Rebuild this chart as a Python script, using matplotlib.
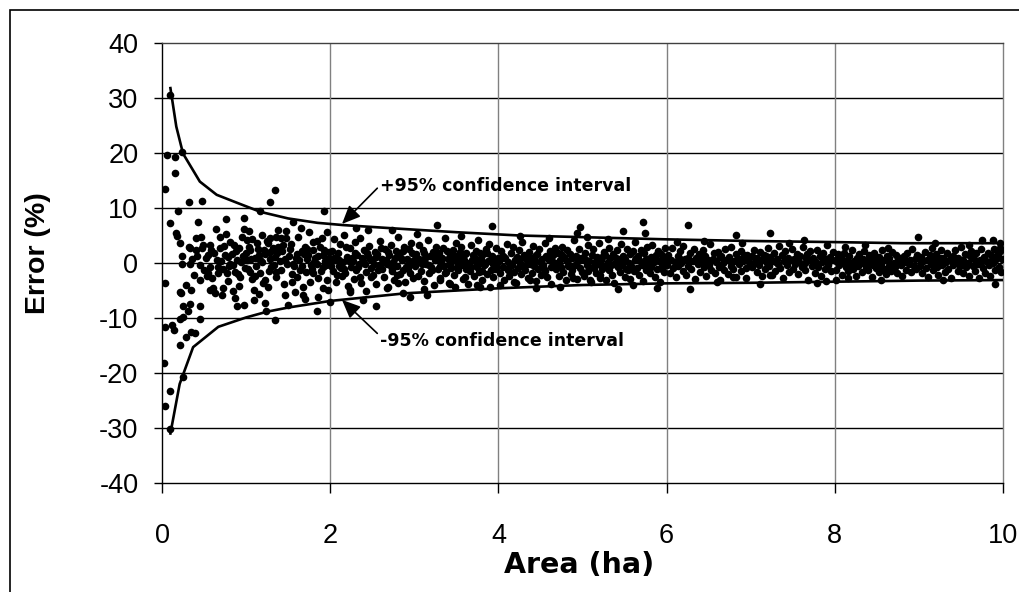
import matplotlib.pyplot as plt
import numpy as np
from matplotlib.patches import Rectangle

plt.rcParams['font.family'] = ['Liberation Sans', 'DejaVu Sans']
plt.rcParams['axes.unicode_minus'] = False

# 95% confidence interval curves
upper_area = [0.1, 0.17, 0.25, 0.45, 0.65, 0.9, 1.17, 1.5, 1.85, 2.15, 2.75, 3.5, 4.25, 5.0, 6.0, 7.0, 8.0, 8.8, 10.0]
upper_err = [31.8, 24.8, 19.9, 14.8, 12.4, 10.9, 9.3, 8.1, 7.3, 6.9, 6.3, 5.6, 5.0, 4.7, 4.3, 4.0, 3.8, 3.6, 3.6]
lower_area = [0.1, 0.21, 0.37, 0.67, 1.0, 1.25, 1.5, 2.0, 2.9, 4.0, 5.0, 6.0, 7.0, 8.0, 9.0, 10.0]
lower_err = [-31.0, -22.0, -15.3, -11.6, -9.9, -8.85, -8.1, -6.9, -5.5, -4.6, -4.0, -3.7, -3.6, -3.4, -3.2, -3.1]

# (area ha, error %) samples
pts_0_2 = [
    (0.09, 30.5), (0.06, 19.6), (0.15, 19.2), (0.24, 20.2), (0.15, 16.3), (0.04, 13.5), (0.32, 11.1), (0.48, 11.3),
    (1.34, 13.3), (1.28, 11.1), (0.19, 9.5), (1.17, 9.5), (1.93, 9.5), (0.09, 7.2), (0.43, 7.4), (0.76, 8.0),
    (0.98, 8.2), (1.56, 7.4), (1.65, 6.4), (1.96, 5.7), (0.17, 5.4), (0.18, 4.9), (0.21, 3.6), (0.64, 6.1),
    (0.76, 5.3), (0.41, 4.5), (0.46, 4.8), (0.57, 3.3), (0.69, 4.7), (0.81, 3.9), (0.98, 6.2), (1.04, 5.8),
    (1.01, 4.2), (0.95, 4.8), (1.13, 3.6), (1.25, 4.0), (1.38, 6.0), (1.47, 5.8), (1.36, 4.8), (1.42, 4.5),
    (1.48, 4.5), (1.28, 4.5), (1.84, 4.0), (1.90, 4.5), (0.32, 3.0), (0.47, 2.7),
    (0.24, 1.3), (0.24, -0.1), (0.33, -0.1), (0.33, 2.7), (0.41, 2.4), (0.49, 3.3), (0.55, 1.5), (0.69, 2.7),
    (0.79, 1.1), (0.81, -0.1), (0.89, 0.5), (0.91, 2.7), (1.01, 0.5), (1.05, 2.4), (1.15, 1.5), (1.26, 3.6),
    (1.28, 2.0), (1.34, 1.1), (1.38, 3.0), (1.46, 0.8), (1.56, -0.1), (1.60, 1.7), (1.70, 3.0), (1.72, 0.8),
    (1.80, 2.4), (1.84, -0.1), (1.92, 1.5), (2.0, -0.1),
    (0.04, -3.7), (0.21, -5.2), (0.23, -5.4), (0.35, -4.9), (0.29, -4.0), (0.45, -3.1), (0.57, -4.9), (0.61, -4.6),
    (0.71, -5.8), (0.73, -4.6), (0.63, -5.5), (0.25, -7.9), (0.45, -7.9), (0.33, -7.5), (0.31, -8.8), (0.21, -10.1),
    (0.25, -9.8), (0.45, -10.1), (0.04, -11.6), (0.12, -11.3), (0.14, -12.2), (0.29, -13.5), (0.35, -12.5), (0.39, -12.8),
    (0.21, -14.9), (0.02, -18.2), (0.25, -20.7), (0.09, -23.3), (0.04, -26.0), (0.10, -30.2),
    (0.87, -6.4), (0.89, -7.9), (0.97, -7.6), (1.09, -6.7), (1.22, -7.2), (1.26, -4.3), (1.09, -4.9), (0.93, -2.5),
    (1.05, -1.6), (1.17, -1.9), (1.22, -3.1), (1.50, -7.6), (1.58, -5.2), (1.68, -5.8), (1.54, -3.4), (1.68, -4.3),
    (1.76, -3.4), (1.84, -8.8), (1.92, -4.6), (2.0, -7.0), (1.34, -10.4), (1.24, -8.8), (1.96, -3.1), (1.80, -1.9),
    (1.64, -1.3), (1.36, -1.6), (0.87, -1.6), (0.77, -1.9), (0.67, -1.9), (0.57, -0.7), (0.45, -0.4), (0.55, -1.9),
    (0.52, 0.9), (0.6, -2.8), (0.62, 1.9), (0.66, -0.8), (0.7, 0.3), (0.74, 3.1), (0.78, -3.3), (0.83, 1.7),
    (0.85, -0.3), (0.88, 2.2), (0.92, -4.1), (0.96, 1.3), (0.99, -0.9), (1.03, 3.0), (1.07, -2.9), (1.1, 1.0),
    (1.12, -0.5), (1.14, 2.6), (1.19, 0.2), (1.2, -3.7), (1.23, 1.6), (1.3, -0.8), (1.32, 2.8), (1.35, -2.6),
    (1.4, 0.4), (1.43, 2.1), (1.45, -3.9), (1.51, 1.2), (1.53, 3.4), (1.57, -0.6), (1.61, -2.5), (1.63, 0.6),
    (1.66, 2.2), (1.71, -1.7), (1.74, 1.5), (1.77, -0.3), (1.79, 3.9), (1.82, 0.9), (1.86, -2.7), (1.88, 2.9),
    (1.91, -0.7), (1.94, 0.3), (1.97, -4.9), (1.99, 2.0), (1.07, 4.4), (1.19, 5.1), (1.62, 4.8), (1.75, 5.6),
    (0.53, -2.4), (0.84, -5.1), (1.15, -5.6), (1.46, -5.9), (1.7, -6.5), (1.86, -6.2),
    (0.36, 0.8), (0.38, -2.2), (0.42, 1.2), (0.5, -1.2), (0.58, 2.3), (0.65, 0.6), (0.72, -1.0), (0.75, 1.5),
    (0.8, -0.6), (0.86, 3.3), (0.9, -2.0), (0.94, 0.1), (1.0, 1.9), (1.02, -1.1), (1.06, 0.8), (1.11, -2.4),
    (1.16, 0.5), (1.21, 2.4), (1.27, -1.5), (1.29, 0.8), (1.33, -0.3), (1.37, 1.9), (1.41, -1.2), (1.44, 3.2),
    (1.49, -0.2), (1.52, 2.5), (1.55, -2.0), (1.59, 0.9), (1.67, -0.5), (1.69, 1.6), (1.73, 2.6), (1.78, -1.0),
    (1.81, 0.2), (1.85, 1.2), (1.89, -1.4), (1.93, 2.4), (1.95, -0.4), (1.98, 0.9),
]

pts_2_4 = [
    (2.02, 2.1), (2.03, -1.4), (2.05, 4.3), (2.06, 0.6), (2.08, -2.2), (2.09, 1.8), (2.11, -0.5), (2.12, 3.5),
    (2.14, -2.4), (2.15, 0.2), (2.17, 5.1), (2.18, -1.9), (2.2, 1.1), (2.21, -4.1), (2.23, 2.7), (2.25, -0.8),
    (2.26, 0.9), (2.28, -2.9), (2.29, 3.8), (2.31, -1.2), (2.32, 1.5), (2.34, -0.2), (2.35, 4.6), (2.37, -3.6),
    (2.39, 0.4), (2.4, 2.3), (2.42, -1.7), (2.43, -5.0), (2.45, 1.2), (2.46, 3.1), (2.48, -0.9), (2.5, 0.5),
    (2.51, -2.2), (2.53, 2.0), (2.54, -3.9), (2.56, 1.6), (2.58, -0.4), (2.59, 4.0), (2.61, -1.1), (2.62, 0.8),
    (2.64, -2.6), (2.65, 2.5), (2.67, -0.1), (2.68, -4.6), (2.7, 1.4), (2.72, 3.3), (2.73, -1.5), (2.75, 0.1),
    (2.76, -3.0), (2.78, 2.2), (2.8, -0.6), (2.81, 4.8), (2.83, -2.0), (2.84, 1.0), (2.86, -1.3), (2.88, 3.0),
    (2.89, -3.4), (2.91, 0.7), (2.92, -0.3), (2.94, 2.6), (2.95, -1.8), (2.97, 1.9), (2.98, -2.7), (2.99, 0.3),
    (2.31, 6.3), (2.45, 6.0), (2.73, 6.0), (2.55, -7.9), (2.24, -5.2), (2.39, -6.7), (2.87, -5.4), (2.95, -6.1),
    (2.69, -4.3), (2.23, -4.9), (2.07, -3.4), (2.81, -3.7),
    (2.04, 0.9), (2.13, -0.9), (2.19, 2.9), (2.27, 0.3), (2.36, -2.5), (2.44, 1.9), (2.52, -0.2), (2.6, 2.7),
    (2.66, 0.5), (2.74, -1.0), (2.82, 1.7), (2.9, -0.7), (2.96, 3.7),
    (2.01, -0.5), (2.1, 0.6), (2.16, -1.1), (2.22, 0.4), (2.3, 1.9), (2.33, -0.7), (2.38, 1.0), (2.41, -0.2),
    (2.47, 0.8), (2.49, -2.6), (2.55, 1.1), (2.57, -1.3), (2.63, 0.1), (2.69, 2.0), (2.71, -0.4), (2.77, 0.9),
    (2.79, -2.1), (2.85, 0.5), (2.87, 2.1), (2.93, -0.9),
    (3.01, -0.6), (3.02, 1.7), (3.04, -2.3), (3.05, 3.2), (3.07, 0.2), (3.08, -1.4), (3.1, 2.4), (3.11, -3.3),
    (3.13, 0.9), (3.14, -0.2), (3.16, 4.1), (3.17, -1.9), (3.19, 1.3), (3.2, -0.8), (3.22, 2.0), (3.23, -4.0),
    (3.25, 0.5), (3.26, 3.0), (3.28, -1.1), (3.29, 1.8), (3.31, -2.7), (3.32, 0.1), (3.34, 2.7), (3.35, -0.5),
    (3.37, 4.5), (3.38, -1.6), (3.4, 0.7), (3.41, -3.6), (3.43, 1.5), (3.44, -0.9), (3.46, 2.3), (3.47, -2.1),
    (3.49, 0.3), (3.5, 3.6), (3.52, -1.3), (3.53, 1.1), (3.55, -0.3), (3.56, 2.9), (3.58, -2.9), (3.59, 0.6),
    (3.61, -1.0), (3.62, 1.9), (3.64, -3.9), (3.65, 0.0), (3.67, 3.3), (3.68, -0.7), (3.7, 1.4), (3.71, -2.4),
    (3.73, 2.1), (3.74, -0.1), (3.76, 4.2), (3.77, -1.7), (3.79, 0.8), (3.8, -3.1), (3.82, 1.6), (3.83, -0.4),
    (3.85, 2.6), (3.86, -2.0), (3.88, 0.4), (3.89, 3.5), (3.91, -1.2), (3.92, 1.2), (3.94, -2.6), (3.95, 0.2),
    (3.97, 2.8), (3.98, -0.8),
    (3.27, 6.9), (3.92, 6.7), (3.15, -5.8), (3.42, -3.8), (3.78, -4.3), (3.9, -4.4), (3.31, -3.1), (3.6, -2.5),
    (3.74, -4.0), (3.03, 5.3), (3.55, 5.0), (3.12, -4.7), (3.48, -4.4),
    (3.06, 0.8), (3.18, -0.4), (3.27, 1.0), (3.36, -1.9), (3.45, 0.6), (3.54, 2.0), (3.63, -0.6), (3.72, 0.9),
    (3.81, -1.5), (3.87, 1.9), (3.93, -0.2), (3.99, 1.0),
    (3.0, 0.6), (3.09, -0.1), (3.12, 1.9), (3.21, -1.2), (3.24, 1.4), (3.3, -0.6), (3.33, 0.9), (3.39, 2.1),
    (3.42, -0.3), (3.48, 1.3), (3.51, -0.8), (3.57, 0.4), (3.6, 1.6), (3.66, -1.5), (3.69, 0.6), (3.75, -0.7),
    (3.78, 1.8), (3.84, -0.1), (3.9, 0.5), (3.96, -1.1),
]

pts_4_6 = [
    (4.01, 0.4), (4.02, -1.9), (4.03, 2.2), (4.05, -0.7), (4.06, 1.3), (4.07, -3.0), (4.08, 0.9), (4.1, 3.4),
    (4.11, -1.2), (4.12, 0.1), (4.13, -2.4), (4.15, 1.8), (4.16, -0.3), (4.17, 2.9), (4.18, -1.6), (4.2, 0.6),
    (4.21, -3.6), (4.22, 1.1), (4.23, -0.9), (4.25, 2.4), (4.26, 0.0), (4.27, -2.0), (4.28, 3.8), (4.3, -0.5),
    (4.31, 1.5), (4.32, -1.3), (4.33, 0.7), (4.35, -2.8), (4.36, 2.0), (4.37, -0.1), (4.38, 1.0), (4.4, -1.8),
    (4.41, 3.1), (4.42, -0.6), (4.43, 0.3), (4.45, -3.3), (4.46, 1.7), (4.47, -1.0), (4.48, 2.6), (4.5, 0.2),
    (4.51, -2.2), (4.52, 0.8), (4.53, -0.4), (4.55, 3.6), (4.56, -1.5), (4.57, 1.2), (4.58, -2.6), (4.6, 0.5),
    (4.61, 2.1), (4.62, -0.8), (4.63, -3.9), (4.65, 1.4), (4.66, -0.2), (4.67, 2.8), (4.68, -1.1), (4.7, 0.0),
    (4.71, 1.9), (4.72, -2.4), (4.73, 0.6), (4.75, -0.7), (4.76, 3.0), (4.77, -1.7), (4.78, 1.1), (4.8, -3.1),
    (4.81, 0.3), (4.82, 2.3), (4.83, -0.5), (4.85, 1.6), (4.86, -2.0), (4.87, 0.9), (4.88, -1.2), (4.9, 4.1),
    (4.91, -0.3), (4.92, 1.3), (4.93, -2.9), (4.95, 0.4), (4.96, 2.5), (4.97, -0.9), (4.98, 1.0), (4.99, -1.6),
    (4.97, 6.6), (4.93, 5.4), (4.73, -4.3), (4.02, -4.0), (4.18, -3.4), (4.38, -3.1), (4.89, -2.8), (4.26, 4.9),
    (4.6, 4.6), (4.45, -4.6),
    (4.04, 1.0), (4.14, -0.6), (4.24, 0.8), (4.34, -0.2), (4.44, 1.3), (4.54, -1.1), (4.64, 0.4), (4.74, 1.6),
    (4.84, -0.4), (4.94, 0.7),
    (5.01, 0.8), (5.02, -2.3), (5.03, 1.9), (5.05, -0.4), (5.06, 3.2), (5.07, -1.4), (5.08, 0.3), (5.1, -3.4),
    (5.11, 1.4), (5.12, -0.7), (5.13, 2.5), (5.15, 0.1), (5.16, -1.9), (5.17, 1.1), (5.18, -0.2), (5.2, 3.7),
    (5.21, -2.7), (5.22, 0.6), (5.23, -1.0), (5.25, 2.0), (5.26, -0.5), (5.27, 1.5), (5.28, -3.0), (5.3, 0.2),
    (5.31, 2.8), (5.32, -1.3), (5.33, 0.9), (5.35, -2.1), (5.36, 1.7), (5.37, -0.1), (5.38, -3.7), (5.4, 1.0),
    (5.41, 2.3), (5.42, -0.8), (5.43, 0.4), (5.45, -1.7), (5.46, 3.4), (5.47, -0.3), (5.48, 1.2), (5.5, -2.5),
    (5.51, 0.7), (5.52, -1.1), (5.53, 2.6), (5.55, 0.0), (5.56, -2.9), (5.57, 1.6), (5.58, -0.6), (5.6, 2.1),
    (5.61, -1.5), (5.62, 0.5), (5.63, 3.9), (5.65, -0.9), (5.66, 1.3), (5.67, -2.2), (5.68, 0.3), (5.7, 2.4),
    (5.71, -0.4), (5.72, -3.2), (5.73, 1.8), (5.75, -1.2), (5.76, 0.8), (5.77, 2.9), (5.78, -0.2), (5.8, -1.8),
    (5.81, 1.1), (5.82, -0.7), (5.83, 3.3), (5.85, 0.1), (5.86, -2.6), (5.87, 1.4), (5.88, -1.0), (5.9, 2.2),
    (5.91, 0.4), (5.92, -3.5), (5.93, 1.7), (5.95, -0.5), (5.96, 0.9), (5.97, -1.6), (5.98, 2.7), (5.99, 0.2),
    (5.72, 7.4), (5.74, 5.4), (5.48, 5.9), (5.42, -4.8), (5.88, -4.5), (5.09, -3.1), (5.6, -4.0), (5.21, -2.2),
    (5.05, 4.7), (5.3, 4.4),
    (5.04, 0.5), (5.14, -0.9), (5.24, 1.2), (5.34, -0.3), (5.44, 0.7), (5.54, -1.3), (5.64, 1.0), (5.74, -0.1),
    (5.84, 0.6), (5.94, -1.1),
]

pts_6_8 = [
    (6.01, -0.3), (6.02, 1.5), (6.04, -1.8), (6.05, 0.6), (6.07, 2.7), (6.08, -0.9), (6.1, 0.2), (6.11, -2.6),
    (6.13, 1.2), (6.14, -0.5), (6.16, 2.1), (6.17, 0.0), (6.19, -1.4), (6.2, 3.1), (6.22, 0.7), (6.23, -2.1),
    (6.25, 1.0), (6.26, -0.6), (6.28, 1.9), (6.29, -1.1), (6.31, 0.4), (6.32, 2.6), (6.34, -2.9), (6.35, 0.9),
    (6.37, -0.2), (6.38, 1.6), (6.4, -1.6), (6.41, 0.3), (6.43, 2.3), (6.44, -0.8), (6.46, 1.2), (6.47, -2.3),
    (6.49, 0.5), (6.5, -0.4), (6.52, 3.4), (6.53, -1.2), (6.55, 0.8), (6.56, 1.8), (6.58, -1.9), (6.59, 0.1),
    (6.61, 2.0), (6.62, -0.7), (6.64, -3.0), (6.65, 1.3), (6.67, 0.0), (6.68, -1.3), (6.7, 2.5), (6.71, 0.6),
    (6.73, -2.0), (6.74, 1.1), (6.76, -0.5), (6.77, 2.9), (6.79, -1.0), (6.8, 0.3), (6.82, 1.7), (6.83, -2.5),
    (6.85, 0.8), (6.86, -0.2), (6.88, 2.2), (6.89, -1.5), (6.91, 0.4), (6.92, 1.4), (6.94, -0.9), (6.95, -2.7),
    (6.97, 1.0), (6.98, 0.1),
    (6.26, 7.0), (6.83, 5.1), (6.28, -4.8), (6.79, -2.5), (6.12, 3.8), (6.45, 4.0), (6.6, -3.4), (6.9, 3.6),
    (6.03, 0.5), (6.15, 1.0), (6.27, 0.2), (6.39, 0.9), (6.51, 0.4), (6.63, 1.1), (6.75, 0.3), (6.87, 0.7),
    (6.96, 1.5), (6.45, -0.1),
    (7.01, 1.3), (7.02, -0.7), (7.04, 2.4), (7.05, 0.2), (7.07, -1.7), (7.08, 0.9), (7.1, -0.3), (7.11, 2.0),
    (7.13, -2.4), (7.14, 0.6), (7.16, 1.5), (7.17, -1.0), (7.19, 0.0), (7.2, 2.8), (7.22, -0.6), (7.23, 1.1),
    (7.25, -2.2), (7.26, 0.4), (7.28, 1.9), (7.29, -1.4), (7.31, 0.7), (7.32, -0.2), (7.34, 3.1), (7.35, -0.9),
    (7.37, 1.4), (7.38, -2.8), (7.4, 0.3), (7.41, 2.2), (7.43, -0.4), (7.44, 1.0), (7.46, -1.6), (7.47, 0.5),
    (7.49, 2.6), (7.5, -1.1), (7.52, 0.8), (7.53, -0.1), (7.55, 1.7), (7.56, -2.0), (7.58, 0.2), (7.59, 1.2),
    (7.61, -0.8), (7.62, 2.9), (7.64, 0.0), (7.65, -1.3), (7.67, 1.6), (7.68, -3.1), (7.7, 0.6), (7.71, 2.1),
    (7.73, -0.5), (7.74, 1.0), (7.76, -1.8), (7.77, 0.4), (7.79, 2.4), (7.8, -0.7), (7.82, 1.3), (7.83, -2.3),
    (7.85, 0.1), (7.86, 1.8), (7.88, -1.0), (7.89, 0.7), (7.91, 3.3), (7.92, -0.3), (7.94, 1.1), (7.95, -1.5),
    (7.97, 0.5), (7.98, 2.0),
    (7.23, 5.5), (7.11, -3.8), (7.63, 4.2), (7.79, -3.7), (7.23, -2.2), (7.45, 3.7), (7.9, -3.3),
    (7.06, 0.4), (7.18, 1.2), (7.3, 0.1), (7.42, 0.8), (7.54, 0.3), (7.66, 0.9), (7.78, 0.0), (7.9, 0.6),
]

pts_8_10 = [
    (8.01, 0.3), (8.02, -1.2), (8.04, 1.6), (8.05, -0.4), (8.07, 0.9), (8.08, -2.1), (8.1, 0.1), (8.11, 1.9),
    (8.13, -0.8), (8.14, 0.6), (8.16, -1.5), (8.17, 1.2), (8.19, -0.2), (8.2, 2.4), (8.22, -1.0), (8.23, 0.4),
    (8.25, -2.4), (8.26, 1.0), (8.28, -0.5), (8.29, 1.7), (8.31, 0.0), (8.32, -1.7), (8.34, 0.8), (8.35, 2.1),
    (8.37, -0.7), (8.38, 0.3), (8.4, -1.3), (8.41, 1.4), (8.43, -0.1), (8.44, -2.6), (8.46, 0.7), (8.47, 1.8),
    (8.49, -0.9), (8.5, 0.2), (8.52, -1.6), (8.53, 1.1), (8.55, -0.3), (8.56, 2.3), (8.58, -1.1), (8.59, 0.5),
    (8.61, -2.0), (8.62, 1.3), (8.64, -0.6), (8.65, 0.9), (8.67, -1.4), (8.68, 2.0), (8.7, 0.0), (8.71, -0.8),
    (8.73, 1.5), (8.74, -1.9), (8.76, 0.4), (8.77, 1.0), (8.79, -0.4), (8.8, -2.3), (8.82, 1.2), (8.83, 0.1),
    (8.85, -1.2), (8.86, 1.8), (8.88, -0.2), (8.89, 0.6), (8.91, -1.7), (8.92, 2.5), (8.94, -0.5), (8.95, 0.8),
    (8.97, -1.0), (8.98, 1.4),
    (8.99, 4.7), (8.63, 2.8), (8.02, -3.0), (8.16, -2.8), (8.36, 3.2), (8.55, -3.1), (8.12, 2.9),
    (8.03, 0.7), (8.15, 0.2), (8.27, 0.6), (8.39, 0.5), (8.51, 0.9), (8.63, 0.3), (8.75, 0.8), (8.87, 0.4),
    (8.45, -0.3),
    (9.01, -0.6), (9.02, 1.1), (9.04, -1.9), (9.05, 0.3), (9.07, 2.0), (9.08, -0.9), (9.1, 0.6), (9.11, -2.5),
    (9.13, 1.4), (9.14, -0.2), (9.16, 2.7), (9.17, -1.3), (9.19, 0.4), (9.2, 1.7), (9.22, -0.7), (9.23, -2.2),
    (9.25, 0.9), (9.26, 2.3), (9.28, -0.4), (9.29, 1.0), (9.31, -1.6), (9.32, 0.1), (9.34, 1.9), (9.35, -1.1),
    (9.37, 0.7), (9.38, -2.8), (9.4, 1.3), (9.41, -0.3), (9.43, 2.4), (9.44, 0.2), (9.46, -1.4), (9.47, 1.0),
    (9.49, -0.6), (9.5, 2.9), (9.52, -1.9), (9.53, 0.5), (9.55, 1.6), (9.56, -0.8), (9.58, 0.0), (9.59, -2.3),
    (9.61, 1.2), (9.62, 2.1), (9.64, -0.5), (9.65, 0.8), (9.67, -1.5), (9.68, 1.8), (9.7, -0.1), (9.71, -2.7),
    (9.73, 0.6), (9.74, 2.5), (9.76, -0.9), (9.77, 1.1), (9.79, -1.8), (9.8, 0.3), (9.82, 1.9), (9.83, -0.4),
    (9.85, -2.4), (9.86, 1.4), (9.88, 0.0), (9.89, 2.6), (9.91, -1.2), (9.92, 0.7), (9.94, 1.6), (9.95, -0.7),
    (9.97, 2.8), (9.98, -1.6),
    (9.19, 3.7), (9.75, 4.2), (9.88, 4.2), (9.97, 3.7), (9.9, -3.8), (9.29, -3.0), (9.97, 2.2), (9.6, 3.3),
    (9.03, 0.4), (9.15, 0.9), (9.27, 0.2), (9.39, 0.6), (9.51, 0.1), (9.63, 0.9), (9.75, 0.3), (9.87, 0.5),
    (9.99, 0.8),
]

y_ticks = [-40, -30, -20, -10, 0, 10, 20, 30, 40]
x_ticks = [0, 2, 4, 6, 8, 10]

pts = np.array(pts_0_2 + pts_2_4 + pts_4_6 + pts_6_8 + pts_8_10)

fig = plt.figure(figsize=(10.19, 5.92), dpi=100)
ax = fig.add_axes([162 / 1019, 109 / 592, 841 / 1019, 440 / 592])

# grid: black horizontals, grey verticals
for yv in y_ticks[1:-1]:
    ax.axhline(yv, color='black', lw=1.0, zorder=1)
for xv in x_ticks[1:-1]:
    ax.axvline(xv, color='#808080', lw=1.0, zorder=1)

ax.plot(pts[:, 0], pts[:, 1], 'o', color='black', ms=5.5, mew=0, zorder=3)
ax.plot(upper_area, upper_err, color='black', lw=1.9, zorder=4)
ax.plot(lower_area, lower_err, color='black', lw=1.9, zorder=4)

ax.set_xlim(0, 10)
ax.set_ylim(-40, 40)
ax.set_xticks(x_ticks)
ax.set_yticks(y_ticks)
ax.tick_params(axis='y', direction='out', length=6, width=1, pad=11, labelsize=19.5)
ax.tick_params(axis='x', direction='out', length=7, width=1, pad=22, labelsize=19.5)

ax.spines['left'].set_color('black')
ax.spines['bottom'].set_color('black')
ax.spines['top'].set_color('#404040')
ax.spines['right'].set_color('#808080')
for s in ax.spines.values():
    s.set_linewidth(1.0)

# annotations
arrow = dict(arrowstyle='-|>,head_length=0.8,head_width=0.35', color='black', lw=1.2,
             mutation_scale=14, shrinkA=0, shrinkB=0)
ax.annotate('', xy=(2.14, 7.1), xytext=(2.56, 13.6), arrowprops=arrow, zorder=5)
ax.annotate('', xy=(2.14, -6.7), xytext=(2.56, -12.8), arrowprops=arrow, zorder=5)
ax.text(2.59, 13.15, '+95% confidence interval', family='DejaVu Sans', fontweight='bold',
        fontsize=12.5, va='baseline', ha='left', zorder=5)
ax.text(2.59, -15.0, '-95% confidence interval', family='DejaVu Sans', fontweight='bold',
        fontsize=12.5, va='baseline', ha='left', zorder=5)

# axis titles
fig.text(579 / 1019, (592 - 573) / 592, 'Area (ha)', family='DejaVu Sans', fontweight='bold',
         fontsize=20.5, ha='center', va='baseline')
fig.text(38 / 1019, (592 - 253) / 592, 'Error (%)', fontweight='bold', fontsize=20.5,
         rotation=90, ha='center', va='center')

# outer chart border (only top/left visible in the original)
fig.patches.append(Rectangle((9.5 / 1019, -0.1), 1.2, (592 - 10) / 592 + 0.1, transform=fig.transFigure,
                             fill=False, edgecolor='black', lw=1.2))

fig.savefig('out.png', dpi=100)
